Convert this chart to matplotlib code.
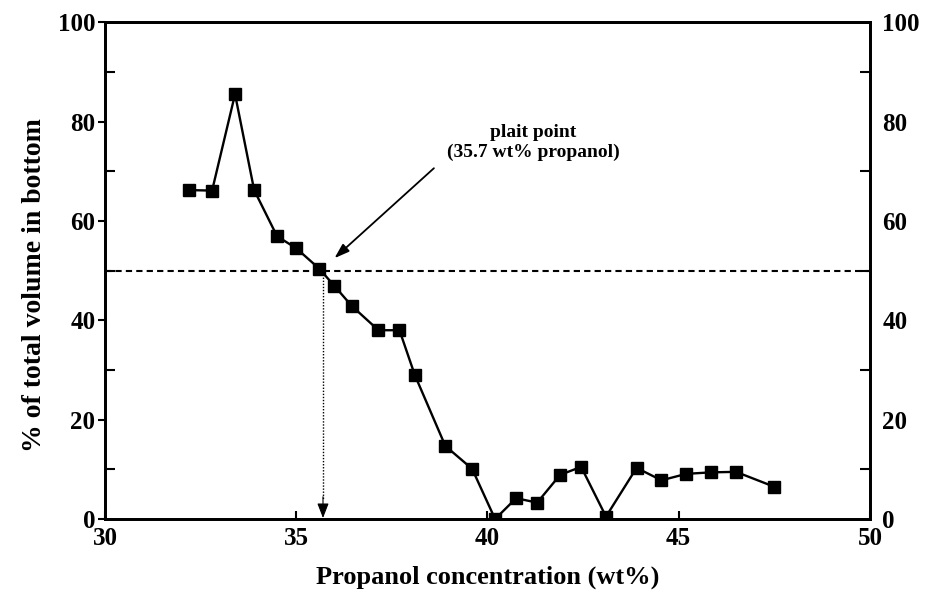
import matplotlib.pyplot as plt
from matplotlib.ticker import MultipleLocator

# data
conc = [32.2, 32.8, 33.4, 33.9, 34.5, 35.0, 35.6, 36.0, 36.45, 37.15, 37.7, 38.1,
        38.9, 39.6, 40.2, 40.75, 41.3, 41.9, 42.45, 43.1, 43.9, 44.55, 45.2,
        45.85, 46.5, 47.5]
vol_bottom = [66.2, 66.1, 85.5, 66.2, 56.9, 54.5, 50.4, 46.9, 42.9, 38.0, 38.0, 29.0,
              14.7, 10.1, 0.0, 4.2, 3.3, 8.9, 10.5, 0.5, 10.3, 7.8, 9.1,
              9.4, 9.5, 6.5]
plait_x = 35.7
plait_y = 50

plt.rcParams['font.family'] = ['Liberation Serif', 'DejaVu Serif']
plt.rcParams['font.weight'] = 'bold'

fig = plt.figure(figsize=(9.26, 5.98), dpi=100)
ax = fig.add_axes([0.1134, 0.132, 0.826, 0.831])

ax.plot(conc, vol_bottom, color='black', lw=1.7, marker='s', markersize=9,
        markerfacecolor='black', markeredgecolor='black', zorder=3)

# 50 % line and plait point marker
ax.axhline(plait_y, color='black', lw=1.5, ls=(0, (3, 2)), zorder=2)
ax.plot([plait_x, plait_x], [plait_y, 4], color='black', lw=1.0, ls=(0, (1, 1.2)))
ax.annotate('', xy=(plait_x, 0.2), xytext=(plait_x, 4.5),
            arrowprops=dict(arrowstyle='-|>,head_length=0.9,head_width=0.35',
                            color='black', lw=0.8, shrinkA=0, shrinkB=0))

ax.annotate('', xy=(36.0, 52.5), xytext=(38.6, 70.6),
            arrowprops=dict(arrowstyle='-|>,head_length=0.9,head_width=0.3',
                            color='black', lw=1.3, shrinkA=0, shrinkB=0))
ax.text(41.2, 75.8, 'plait point\n(35.7 wt% propanol)', ha='center', va='center',
        fontsize=14, linespacing=1.15)

ax.set_xlim(30, 50)
ax.set_ylim(0, 100)
ax.xaxis.set_major_locator(MultipleLocator(5))
ax.yaxis.set_major_locator(MultipleLocator(20))
ax.yaxis.set_minor_locator(MultipleLocator(10))
ax.tick_params(axis='x', direction='in', length=6, width=1.5, labelsize=18, pad=6)
ax.tick_params(axis='y', which='major', direction='out', length=5, width=1.5,
               labelsize=18, pad=2)
ax.tick_params(axis='y', which='minor', direction='in', length=7, width=1.5)
ax.tick_params(top=False, right=False)

for s in ax.spines.values():
    s.set_linewidth(2)

ax.set_xlabel('Propanol concentration (wt%)', fontsize=19, fontweight='bold', labelpad=11)
ax.set_ylabel('% of total volume in bottom', fontsize=20, fontweight='bold')
ax.yaxis.set_label_coords(-0.076, 0.47)

ax2 = ax.twinx()
ax2.set_ylim(0, 100)
ax2.yaxis.set_major_locator(MultipleLocator(20))
ax2.yaxis.set_minor_locator(MultipleLocator(10))
ax2.tick_params(axis='y', which='major', direction='in', length=0, labelsize=18, pad=9)
ax2.tick_params(axis='y', which='minor', direction='in', length=7, width=1.5)
for s in ax2.spines.values():
    s.set_linewidth(2)

fig.savefig('out.png', dpi=100)
